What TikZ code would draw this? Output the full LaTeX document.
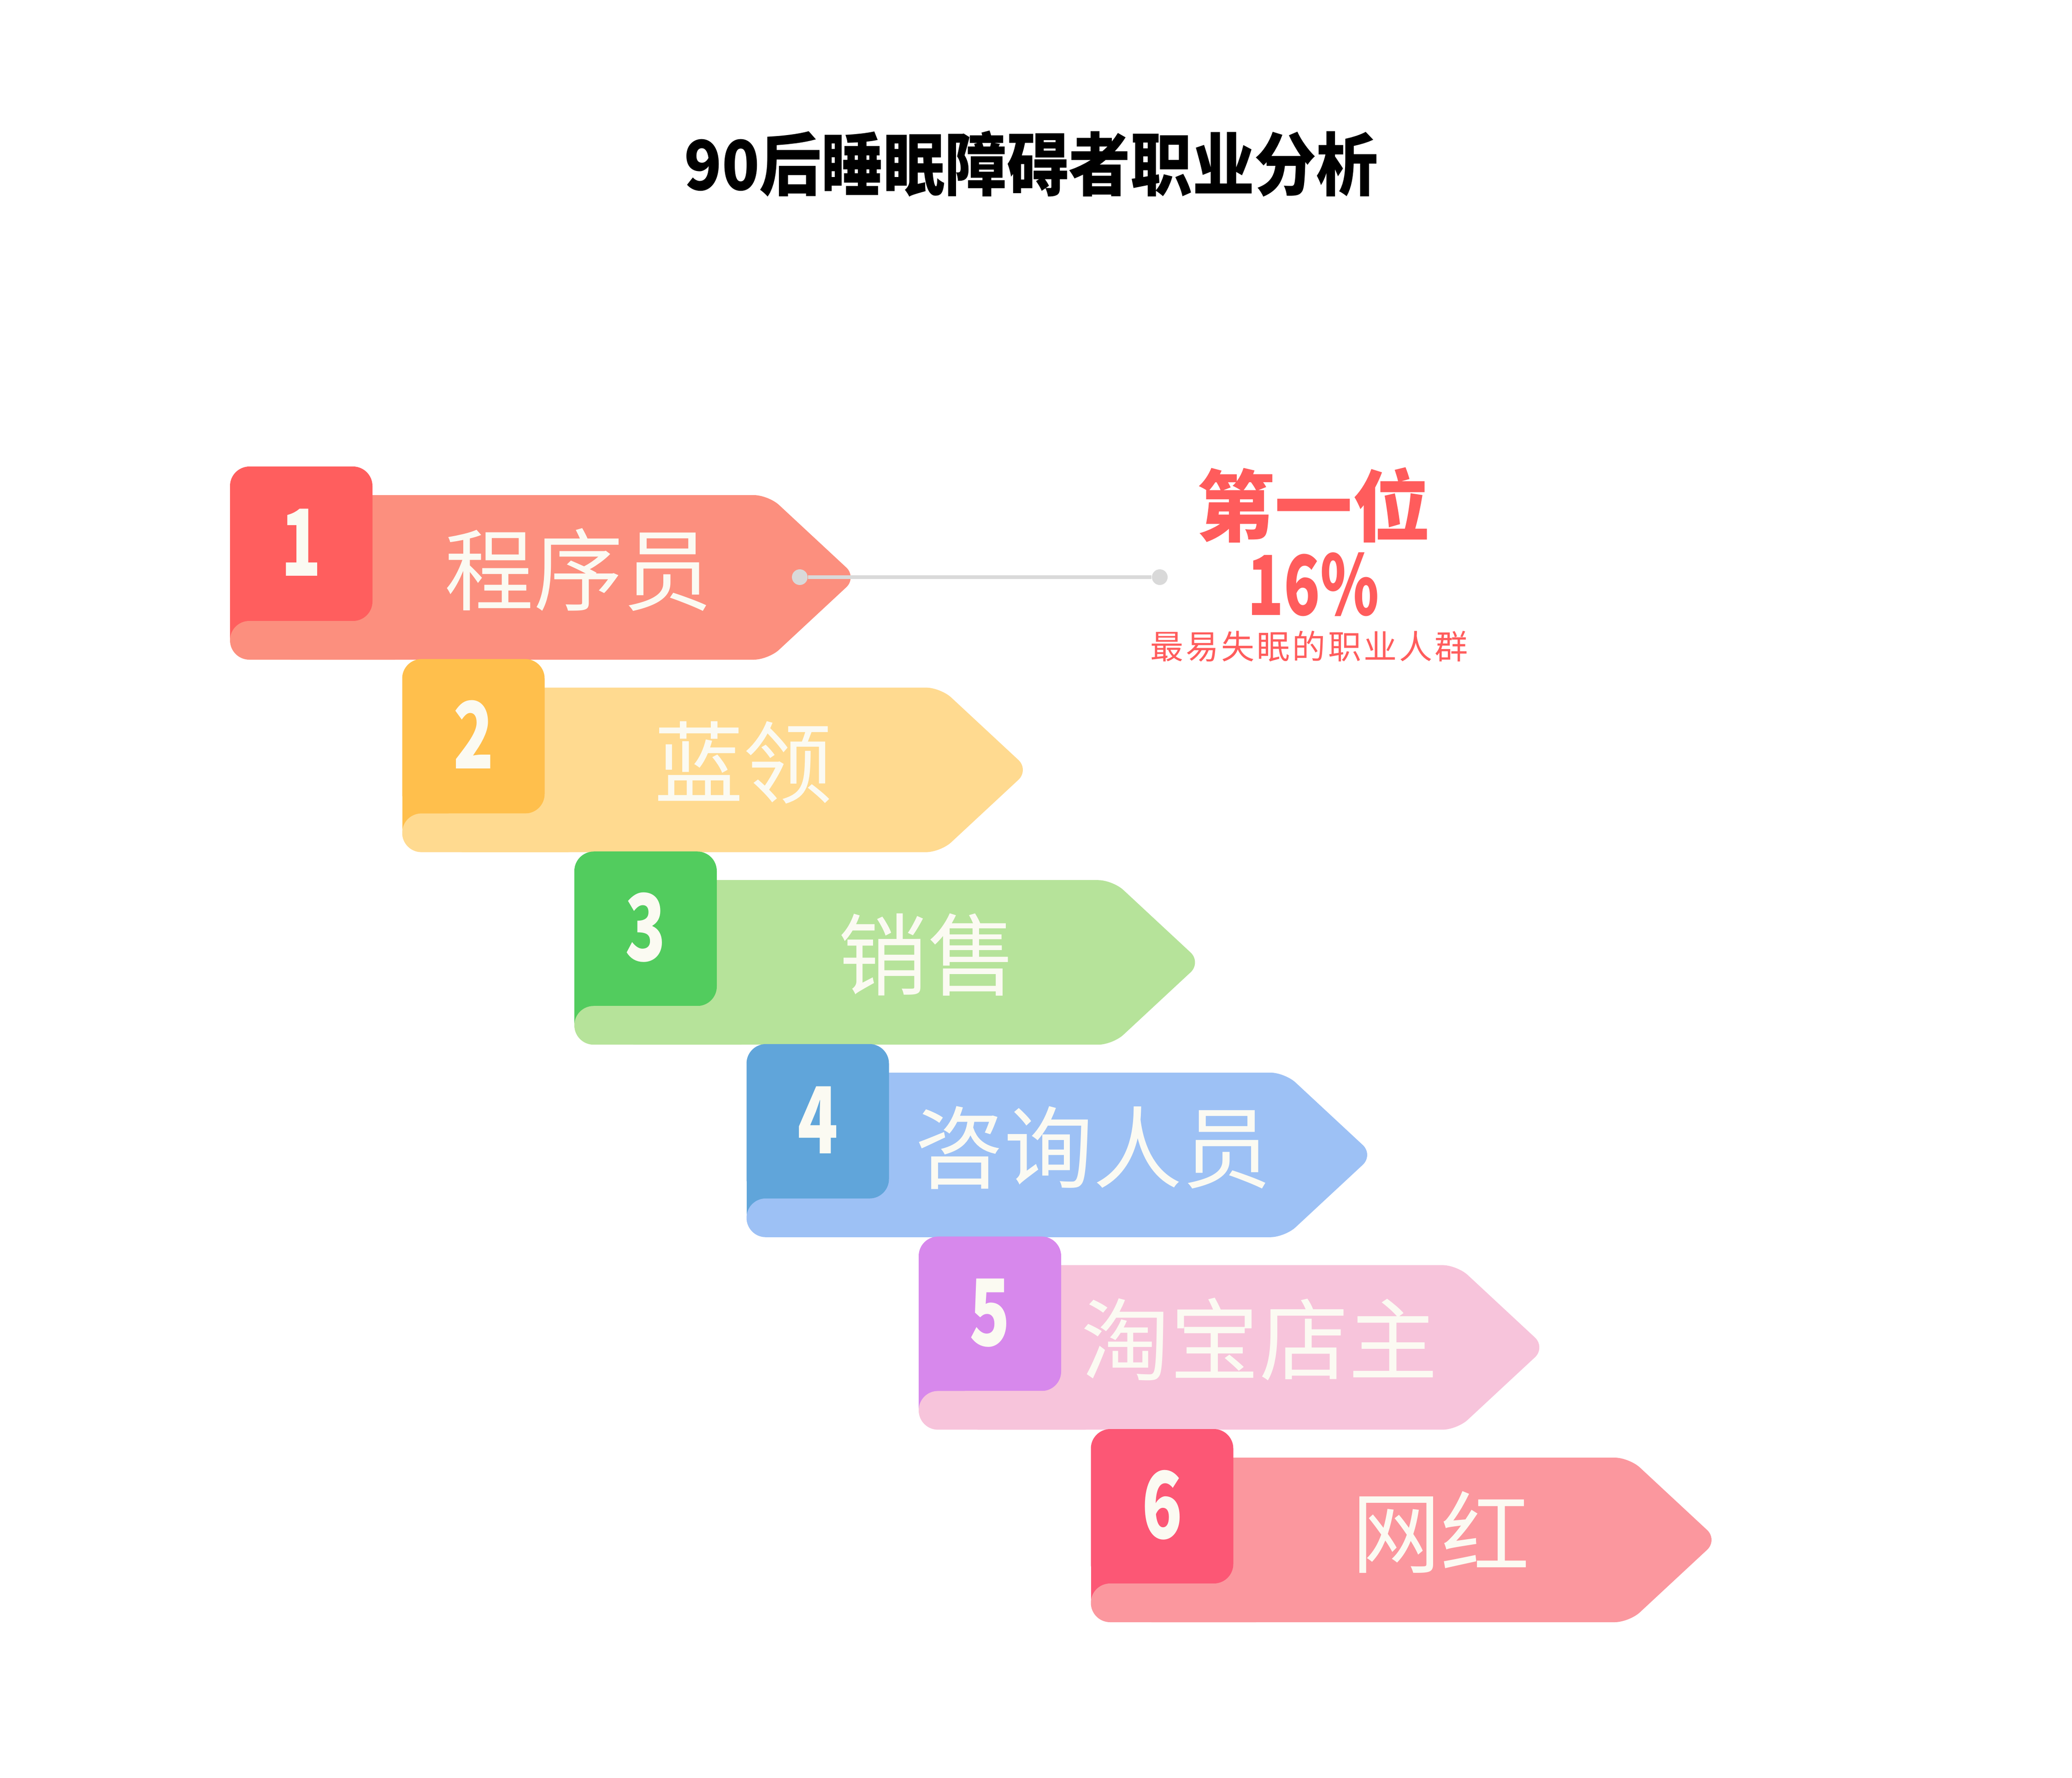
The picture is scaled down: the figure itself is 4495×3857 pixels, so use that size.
\documentclass[tikz,border=0pt]{standalone}
\usepackage{fontspec}
\newfontfamily\cjk{Noto Sans CJK SC}
\newfontfamily\cjkblack{Noto Sans CJK SC Black}
\newfontfamily\titlefont[FakeStretch=0.9]{Noto Sans CJK SC Black}
\newfontfamily\numfont[FakeStretch=0.72]{Noto Sans CJK SC Black}
\newfontfamily\subfont[LetterSpace=7]{Noto Sans CJK SC}

\definecolor{tab1}{HTML}{FF5E5E}\definecolor{band1}{HTML}{FC8F7E}
\definecolor{tab2}{HTML}{FFBF4C}\definecolor{band2}{HTML}{FFDA90}
\definecolor{tab3}{HTML}{52CC5E}\definecolor{band3}{HTML}{B6E39A}
\definecolor{tab4}{HTML}{60A5DA}\definecolor{band4}{HTML}{9DC1F5}
\definecolor{tab5}{HTML}{D788EC}\definecolor{band5}{HTML}{F7C4DB}
\definecolor{tab6}{HTML}{FC5775}\definecolor{band6}{HTML}{FB979E}
\definecolor{cream}{HTML}{FBFAF2}
\definecolor{dotgray}{HTML}{D9D9D9}
\definecolor{hot}{HTML}{FF5C5C}

\begin{document}
\begin{tikzpicture}[x=0.01cm,y=-0.01cm,
	num/.style={text=cream,inner sep=0,font=\numfont\fontsize{57}{60}\selectfont},
	lbl/.style={text=cream,inner sep=0,font=\cjk\fontsize{55}{60}\selectfont},
	dot/.style={circle,fill=dotgray,inner sep=0,minimum size=0.34cm}]
	    \useasboundingbox(0,0)rectangle(4495,3857);

	    % 标题
	    \node[inner sep=0,anchor=base,font=\titlefont\fontsize{42.4}{48}\selectfont](title)at(2237,412){90后睡眠障碍者职业分析};

	    % 六条横幅 (1px = 0.2845pt)
	    \foreach \i/\t/\dx in {1/程序员/756,2/蓝领/740,3/销售/766,4/咨询人员/752,5/淘宝店主/739,6/网红/759}{
	        \pgfmathsetmacro\L{499+373.5*(\i-1)}
	        \pgfmathsetmacro\C{1252.5+417.6*(\i-1)}
	        \fill[band\i,rounded corners=9pt]({\L+100},{\C-178.5})--({\L+1168},{\C-178.5})--({\L+1360},\C)--({\L+1168},{\C+178.5})--({\L+100},{\C+178.5})--cycle;
	        \fill[tab\i,rounded corners=12pt](\L,{\C-240.5})rectangle({\L+309},{\C+94.5});
	        \fill[tab\i](\L,{\C+40})rectangle({\L+100},{\C+140});
	        \fill[band\i,rounded corners=11.9pt](\L,{\C+94.5})rectangle({\L+400},{\C+178.5});
	        \node[num,anchor=base](n\i)at({\L+154.5},{\C-3}){\i};
	        \node[lbl,anchor=base](t\i)at({\L+\dx},{\C+57}){\t};
	    }

	    % 引线
	    \node[dot](d1)at(1735,1252){};
	    \node[dot](d2)at(2516,1252){};
	    \draw[dotgray,line width=0.08cm](d1)--(d2);

	    % 第一位
	    \node[inner sep=0,anchor=base,text=hot,font=\cjkblack\fontsize{48}{52}\selectfont](rank)at(2850,1161){第一位};
	    \node[inner sep=0,anchor=base,text=hot,font=\numfont\fontsize{51}{55}\selectfont](pct)at(2849,1334){16\%};
	    \node[inner sep=0,anchor=base,text=hot,font=\subfont\fontsize{20.5}{24}\selectfont](sub)at(2840,1429){最易失眠的职业人群};
\end{tikzpicture}
\end{document}
